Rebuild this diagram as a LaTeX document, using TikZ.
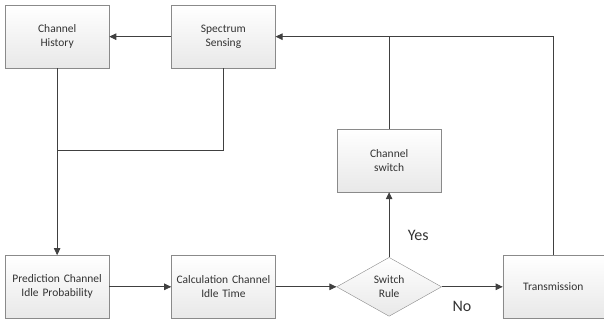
\documentclass[tikz,border=0pt]{standalone}
\usepackage{fontspec}
\setmainfont{Carlito}
\usepackage{xcolor}
\usepackage{tikz}
\usetikzlibrary{shapes.geometric,arrows.meta,positioning,calc,shadows}
\definecolor{boxline}{HTML}{8A8A8A}
\definecolor{wire}{HTML}{404040}
\definecolor{ink}{HTML}{333333}
\tikzstyle{block} = [rectangle, draw=boxline, top color=white, bottom color=gray!18,
    text width=100pt, align=center, minimum width=104pt, minimum height=63pt,
    inner sep=1pt, text=ink, font=\fontsize{11.5}{14}\selectfont,
    drop shadow={shadow xshift=0.8pt, shadow yshift=-0.8pt, fill=gray!45}]
\tikzstyle{decision} = [diamond, draw=boxline, top color=white, bottom color=gray!18,
    minimum width=105pt, minimum height=59pt, inner sep=0pt, aspect=1.8,
    align=center, text=ink, font=\fontsize{11.5}{14}\selectfont]
\tikzstyle{line} = [draw=wire, line width=0.8pt, -{Triangle[length=7pt,width=6.5pt]}]
\tikzstyle{wireline} = [draw=wire, line width=0.8pt]
\tikzset{
    answer/.style={text=ink, font=\fontsize{16}{18}\selectfont}
}

\begin{document}
\begin{tikzpicture}[node distance=62pt,auto]
            % Top row
            \node [block] (chist) {Channel\\History};
            \node [block] (sensing) [right=of chist] {Spectrum\\Sensing};

            % Bottom row
            \node [block] (predict) [below=187pt of chist] {Prediction Channel\\Idle Probability};
            \node [block] (calc) [right=of predict] {Calculation Channel\\Idle Time};
            \node [decision] (rule) [right=61pt of calc] {Switch\\Rule};
            \node [block, minimum width=101pt, text width=97pt] (trans) [right=61pt of rule] {Transmission};

            % Switch branch
            \node [block] (cswitch) [above=65pt of rule] {Channel\\switch};

            % Junctions
            \coordinate [below=82pt of chist.south] (merge);
            \coordinate (tap) at (cswitch.north |- sensing.east);

            % Connect everything
            \path [line] (sensing) -- (chist);
            \path [wireline] (sensing.south) |- (merge);
            \path [line] (chist) -- (predict);
            \path [line] (predict) -- (calc);
            \path [line] (calc) -- (rule);
            \path [line] (rule) -- node[answer, below, pos=0.33, yshift=-11pt] {No} (trans);
            \path [line] (rule) -- node[answer, right, pos=0.33, xshift=15pt] {Yes} (cswitch);
            \path [wireline] (cswitch.north) -- (tap);
            \path [line] (trans.north) |- (sensing.east);

            % Frame
            \useasboundingbox ([xshift=-5pt,yshift=5pt]chist.north west) rectangle ++(604pt,-320pt);
        \end{tikzpicture}
\end{document}
